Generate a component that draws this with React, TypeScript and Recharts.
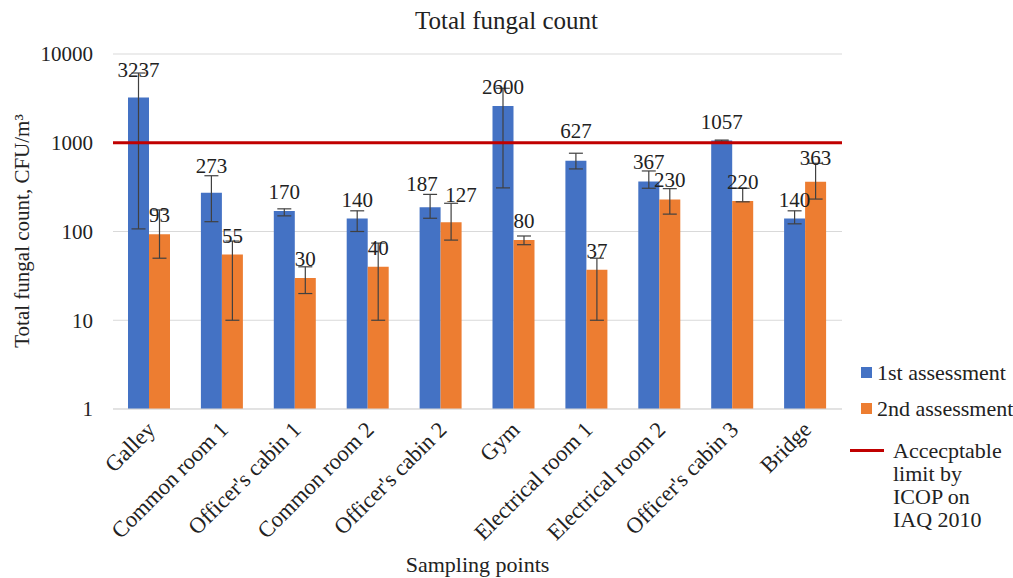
import React from "react";
import { BarChart, Bar, XAxis, YAxis, CartesianGrid, ErrorBar, LabelList, ReferenceLine, Legend } from "recharts";

const categories = [
  "Galley",
  "Common room 1",
  "Officer's cabin 1",
  "Common room 2",
  "Officer's cabin 2",
  "Gym",
  "Electrical room 1",
  "Electrical room 2",
  "Officer's cabin 3",
  "Bridge",
];
const firstAssessment = [3237, 273, 170, 140, 187, 2600, 627, 367, 1057, 140];
const secondAssessment = [93, 55, 30, 40, 127, 80, 37, 230, 220, 363];
// error bars: [below, above]
const firstError = [[3130, 2870], [144, 152], [20, 10], [40, 31], [46, 75], [2290, 1510], [120, 135], [60, 114], [15, 15], [18, 31]];
const secondError = [[43, 82], [45, 23], [10, 10], [30, 34], [47, 81], [9, 9], [27, 13], [73, 74], [4, 87], [131, 224]];
const yTicks = [1, 10, 100, 1000, 10000];
const acceptableLimit = 1000;

// hand-moved data labels, like the original [dx, dy]
const firstLabelNudge = [[0, -8], [0, -8], [0, 0], [0, 0], [-8, -4], [0, 0], [0, -11], [0, 0], [0, 0], [0, 0]];
const secondLabelNudge = [[0, 0], [0, 0], [0, 0], [0, 0], [10, -8], [0, 0], [0, 0], [0, 0], [0, 0], [0, -5]];

const FONT = "'Liberation Serif', 'Times New Roman', serif";
const BLUE = "#4472C4";
const ORANGE = "#ED7D31";
const RED = "#C00000";

const data = categories.map((name, i) => ({
  name,
  first: firstAssessment[i],
  second: secondAssessment[i],
  firstErr: firstError[i],
  secondErr: secondError[i],
}));

const legendItems = [
  { label: "1st assessment", color: BLUE, kind: "box" },
  { label: "2nd assessment", color: ORANGE, kind: "box" },
  { label: "Accecptable limit by ICOP on IAQ 2010", color: RED, kind: "line" },
];

const CategoryTick = ({ x, y, payload }: any) => {
  const ax = x + 7;
  const ay = y + 22;
  return (
    <text x={ax} y={ay} transform={`rotate(-45, ${ax}, ${ay})`} textAnchor="end" fontSize={22.5} fill="#222" fontFamily={FONT}>
      {payload.value}
    </text>
  );
};

const makeLabel = (nudge: number[][]) => (props: any) => {
  const { x, y, width, value, index } = props;
  const [dx, dy] = nudge[index] || [0, 0];
  return (
    <text x={x + width / 2 + dx} y={y - 12 + dy} textAnchor="middle" fontSize={21} fill="#222" fontFamily={FONT}>
      {value}
    </text>
  );
};

const renderLegend = () => (
  <div style={{ fontFamily: FONT, fontSize: 22, color: "#222", lineHeight: "23px" }}>
    {legendItems.map((it) => (
      <div
        key={it.label}
        style={{ display: "flex", alignItems: "flex-start", marginBottom: 13, marginTop: it.kind === "line" ? 19 : 0 }}
      >
        {it.kind === "box" ? (
          <span style={{ width: 11, height: 11, background: it.color, marginTop: 6, marginRight: 5, marginLeft: 11, flex: "none" }} />
        ) : (
          <span style={{ width: 34, height: 3, background: it.color, marginTop: 10, marginRight: 9, flex: "none" }} />
        )}
        <span style={{ width: it.kind === "line" ? 112 : undefined, whiteSpace: it.kind === "line" ? "normal" : "nowrap" }}>
          {it.label}
        </span>
      </div>
    ))}
  </div>
);

export default function App() {
  return (
    <div style={{ position: "absolute", left: 0, top: 0, width: 1013, height: 578, background: "#fff", fontFamily: FONT, color: "#222" }}>
      <div style={{ position: "absolute", left: 0, width: 1013, top: 7, textAlign: "center", fontSize: 25 }}>Total fungal count</div>
      <div
        style={{
          position: "absolute",
          left: 22,
          top: 231,
          transform: "translate(-50%, -50%) rotate(-90deg)",
          whiteSpace: "nowrap",
          fontSize: 21,
        }}
      >
        Total fungal count, CFU/m³
      </div>
      <div style={{ position: "absolute", left: 113, width: 729, top: 552, textAlign: "center", fontSize: 22 }}>Sampling points</div>
      <BarChart
        width={1013}
        height={578}
        data={data}
        margin={{ top: 54, right: 171, bottom: 39, left: 33 }}
        barGap={0}
        barSize={21}
      >
        <CartesianGrid vertical={false} stroke="#d9d9d9" />
        <XAxis
          dataKey="name"
          height={130}
          interval={0}
          tickLine={false}
          tickSize={0}
          tickMargin={0}
          axisLine={{ stroke: "#d9d9d9" }}
          tick={<CategoryTick />}
        />
        <YAxis
          scale="log"
          domain={[1, 10000]}
          ticks={yTicks}
          width={80}
          axisLine={false}
          tickLine={false}
          tickSize={0}
          tickMargin={20}
          allowDataOverflow
          tick={{ fontSize: 21, fill: "#222", fontFamily: FONT }}
        />
        <Bar dataKey="first" fill={BLUE} isAnimationActive={false}>
          <ErrorBar dataKey="firstErr" width={7} stroke="#404040" strokeWidth={1.2} direction="y" />
          <LabelList dataKey="first" content={makeLabel(firstLabelNudge)} />
        </Bar>
        <Bar dataKey="second" fill={ORANGE} isAnimationActive={false}>
          <ErrorBar dataKey="secondErr" width={7} stroke="#404040" strokeWidth={1.2} direction="y" />
          <LabelList dataKey="second" content={makeLabel(secondLabelNudge)} />
        </Bar>
        <ReferenceLine y={acceptableLimit} stroke={RED} strokeWidth={3} />
        <Legend
          content={renderLegend}
          layout="horizontal"
          verticalAlign="middle"
          align="center"
          wrapperStyle={{ position: "absolute", left: 850, top: 361, width: 163 }}
        />
      </BarChart>
    </div>
  );
}
